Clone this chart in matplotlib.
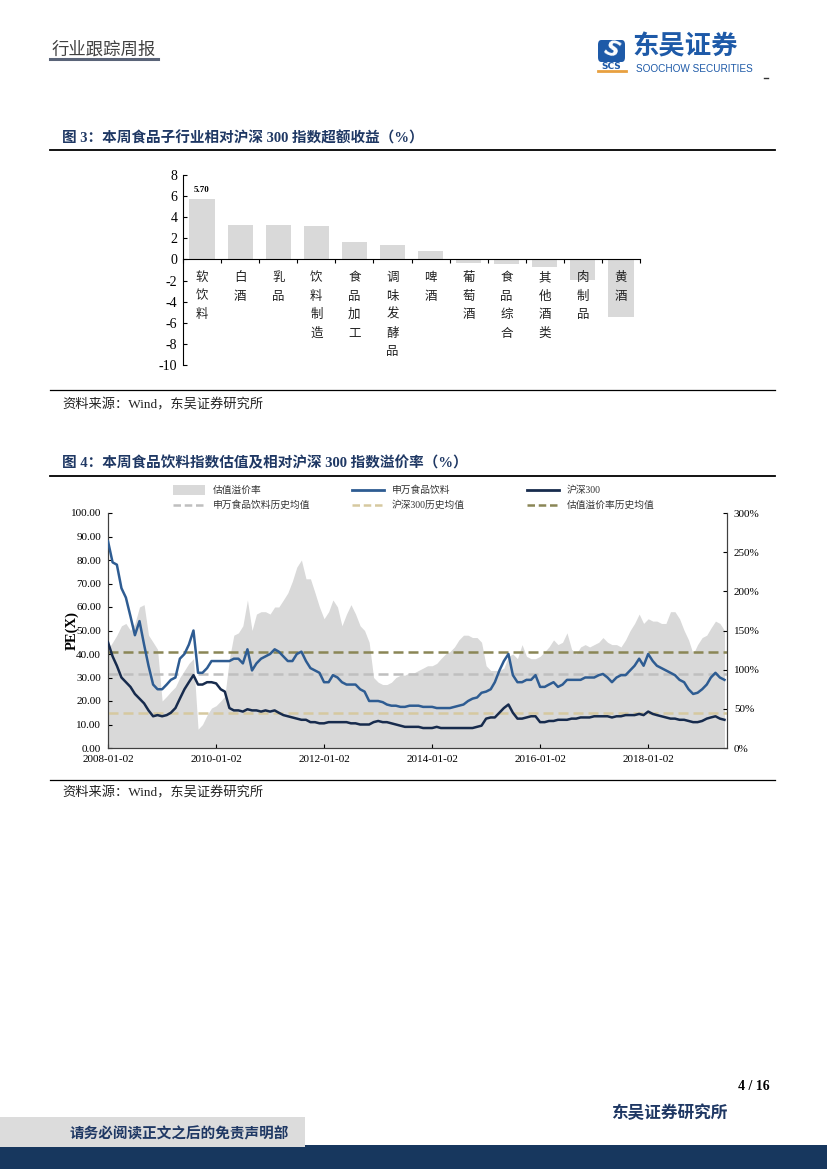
# 东吴证券 行业跟踪周报 p4: 食品子行业超额收益 + 食品饮料估值溢价
import numpy as np
import pandas as pd
import matplotlib
matplotlib.use('Agg')
import matplotlib.pyplot as plt
from matplotlib.lines import Line2D
from matplotlib.patches import Rectangle, FancyBboxPatch

plt.rcParams['font.family'] = ['Noto Sans CJK SC', 'DejaVu Sans']
SERIF = ['Liberation Serif', 'Noto Sans CJK SC']

# ---- 图3 data ----
sectors = ['软饮料', '白酒', '乳品', '饮料制造', '食品加工', '调味发酵品', '啤酒',
           '葡萄酒', '食品综合', '其他酒类', '肉制品', '黄酒']
excess = [5.70, 3.31, 3.30, 3.13, 1.65, 1.36, 0.76, -0.35, -0.44, -0.76, -1.90, -5.47]
bar_ticks = [8, 6, 4, 2, 0, -2, -4, -6, -8, -10]

# ---- 图4 data (monthly) ----
dates = pd.date_range('2008-01-01', periods=138, freq='MS') + pd.Timedelta(days=1)
sw_pe = [88, 79, 78, 68, 64, 56, 48, 54, 44, 35, 27, 25,
         25, 27, 29, 30, 38, 40, 44, 50, 32, 32, 34, 37,
         37, 37, 37, 37, 38, 38, 36, 42, 33, 36, 38, 39,
         40, 42, 41, 39, 37, 37, 40, 41, 37, 34, 33, 32,
         28, 28, 31, 30, 28, 27, 27, 27, 25, 24, 20, 20,
         20, 19.5, 18.5, 18, 18, 17.5, 17.5, 18, 18, 18, 17.5, 17.5,
         17.5, 17, 17, 17, 17, 17.5, 18, 18.5, 20, 21, 21.5, 23.5,
         24, 25, 28, 33, 37, 40, 31, 28, 28, 29, 29, 31,
         26, 26, 27, 28, 26, 27, 29, 29, 29, 29, 30, 30,
         30, 31, 31.5, 30, 28, 30, 31, 31, 33, 35, 38, 35,
         40, 37, 35, 34, 33, 32, 31, 29, 28, 25, 23, 23.5,
         25, 27, 30, 32, 30, 29]
hs_pe = [45, 39, 35, 30, 28, 26, 23, 21, 19, 16, 13.5, 14,
         13.5, 14, 15, 17, 21, 25, 28, 31, 27, 27, 28, 28,
         27.5, 25, 24, 17, 16, 16, 15.5, 16.5, 16, 16, 15.5, 16,
         15.5, 16, 15, 14, 13.5, 13, 12.5, 12, 12, 11, 11, 10.5,
         10.5, 11, 11, 11, 11, 11, 10.5, 10.5, 10, 10, 10, 11,
         11.5, 11, 11, 10.5, 10, 9.5, 9, 9, 9, 9, 8.5, 8.5,
         8.5, 9, 8.5, 8.5, 8.5, 8.5, 8.5, 8.5, 8.5, 8.5, 9, 9.5,
         12.5, 13, 13, 15, 17, 18.5, 15, 12.5, 12.5, 13, 13.5, 13.5,
         11, 11, 11.5, 11.5, 12, 12, 12, 12.5, 12.5, 13, 13, 13,
         13.5, 13.5, 13.5, 13.5, 13, 13.5, 13.5, 14, 14, 14, 14.5, 14,
         15.5, 14.5, 14, 13.5, 13, 12.5, 12.5, 12, 12, 11.5, 11, 11,
         11.5, 12.5, 13, 13.5, 12.5, 12]
premium = [126, 135, 144, 156, 159, 150, 159, 180, 183, 144, 135, 126,
           60, 66, 72, 78, 90, 99, 108, 114, 24, 30, 42, 51,
           54, 60, 66, 114, 144, 147, 156, 189, 150, 171, 174, 174,
           171, 180, 180, 189, 198, 213, 231, 240, 216, 216, 198, 180,
           165, 174, 189, 180, 156, 171, 183, 171, 156, 150, 135, 90,
           84, 81, 81, 84, 90, 93, 93, 96, 96, 99, 102, 105,
           105, 108, 114, 120, 123, 129, 138, 144, 144, 141, 141, 135,
           105, 99, 99, 99, 102, 117, 120, 114, 132, 117, 114, 114,
           117, 123, 129, 138, 132, 135, 147, 126, 120, 129, 132, 129,
           132, 135, 141, 135, 132, 132, 129, 138, 150, 159, 171, 159,
           165, 162, 162, 159, 159, 174, 174, 165, 150, 138, 120, 132,
           141, 144, 153, 162, 159, 150]
sw_mean = 31.6
hs_mean = 14.8
premium_mean = 122
date_ticks = ['2008-01-02', '2010-01-02', '2012-01-02', '2014-01-02', '2016-01-02', '2018-01-02']

# colours
NAVY = '#1F3864'
C_AREA = '#D9D9D9'
C_SW = '#2E5C92'
C_HS = '#172B4D'
C_SW_MEAN = '#BFBFBF'
C_HS_MEAN = '#D6C9A0'
C_PR_MEAN = '#8A8656'

W, H = 827, 1169
fig = plt.figure(figsize=(W / 100, H / 100), dpi=100)


def fx(x):
    return x / W


def fy(y):
    return 1 - y / H


def rect(l, t, r, b):
    return [l / W, 1 - b / H, (r - l) / W, (b - t) / H]


def hline(x0, x1, y, **kw):
    fig.add_artist(Line2D([fx(x0), fx(x1)], [fy(y), fy(y)], transform=fig.transFigure, **kw))


# --- header ---
fig.text(fx(52), fy(50), '行业跟踪周报', fontsize=12.5, color='#404040', va='center')
hline(50, 158, 59, color='#5A6478', lw=2.2)
fig.add_artist(FancyBboxPatch((fx(598), fy(62)), fx(27), (22 / H), boxstyle='round,pad=0.0,rounding_size=0.004',
                              transform=fig.transFigure, facecolor='#1E5AA8', edgecolor='none'))
fig.text(fx(611.5), fy(50), 'S', fontsize=15, fontweight='bold', color='white', ha='center', va='center',
         family='DejaVu Sans', style='italic', rotation=-20)
fig.text(fx(611.5), fy(66.5), 'SCS', fontsize=6.5, fontweight='bold', color='#1E5AA8', ha='center', va='center',
         family='DejaVu Sans')
hline(598, 626, 71, color='#E8A040', lw=2)
fig.text(fx(632), fy(47), '东吴证券', fontsize=19, fontweight='bold', color='#1E5AA8', va='center')
fig.text(fx(636), fy(68.5), 'SOOCHOW SECURITIES', fontsize=7.2, color='#1E5AA8', va='center',
         family='Liberation Sans')
hline(764, 768, 78, color='#333333', lw=1)

# --- 图3 ---
fig.text(fx(62), fy(138), '图 3：本周食品子行业相对沪深 300 指数超额收益（%）', fontsize=10.5,
         fontweight='bold', color=NAVY, va='center', family=SERIF)
hline(50, 775, 150, color='black', lw=1.3)

ax1 = fig.add_axes(rect(183, 175, 640, 365))
x = np.arange(len(sectors))
ax1.bar(x, excess, width=0.66, color=C_AREA, zorder=1)
ax1.set_xlim(-0.5, len(sectors) - 0.5)
ax1.set_ylim(-10, 8)
ax1.set_yticks(bar_ticks)
ax1.set_yticklabels([str(v) for v in bar_ticks], family='Liberation Serif', fontsize=10)
ax1.set_xticks(np.arange(-0.5, len(sectors), 1))
ax1.set_xticklabels([])
ax1.tick_params(axis='y', direction='in', length=3, width=0.8, pad=4)
ax1.tick_params(axis='x', direction='out', length=3, width=0.8)
for s in ['top', 'right']:
    ax1.spines[s].set_visible(False)
ax1.spines['bottom'].set_position(('data', 0))
ax1.spines['bottom'].set_zorder(3)
for s in ['left', 'bottom']:
    ax1.spines[s].set_linewidth(0.8)
ax1.patch.set_visible(False)
for i, name in enumerate(sectors):
    ax1.text(i, -1.1, '\n'.join(name), ha='center', va='top', fontsize=9, linespacing=1.55, color='#222222')
ax1.text(0, excess[0] + 0.5, f'{excess[0]:.2f}', ha='center', va='bottom', fontsize=6.5,
         fontweight='bold', family='Liberation Serif')

hline(50, 775, 390, color='black', lw=0.9)
fig.text(fx(62), fy(405), '资料来源：Wind，东吴证券研究所', fontsize=9.5, color='#222222', va='center',
         family=SERIF)

# --- 图4 ---
fig.text(fx(62), fy(463), '图 4：本周食品饮料指数估值及相对沪深 300 指数溢价率（%）', fontsize=10.5,
         fontweight='bold', color=NAVY, va='center', family=SERIF)
hline(50, 775, 476, color='black', lw=1.3)

# legend (two rows, three columns)
leg_rows = [
    [('patch', C_AREA, '估值溢价率'), ('line', C_SW, '申万食品饮料'), ('line', C_HS, '沪深300')],
    [('dash', C_SW_MEAN, '申万食品饮料历史均值'), ('dash', C_HS_MEAN, '沪深300历史均值'),
     ('dash', C_PR_MEAN, '估值溢价率历史均值')],
]
col_x = [173, 352, 527]
row_y = [490, 505]
for r, row in enumerate(leg_rows):
    for c, (kind, col, lab) in enumerate(row):
        x0, yy = col_x[c], row_y[r]
        if kind == 'patch':
            fig.add_artist(Rectangle((fx(x0), fy(yy + 5)), 32 / W, 10 / H, transform=fig.transFigure,
                                     facecolor=col, edgecolor='none'))
        elif kind == 'line':
            hline(x0, x0 + 32, yy, color=col, lw=2)
        else:
            fig.add_artist(Line2D([fx(x0), fx(x0 + 32)], [fy(yy), fy(yy)], transform=fig.transFigure,
                                  color=col, lw=1.8, ls=(0, (3, 1.5))))
        fig.text(fx(x0 + 40), fy(yy), lab, fontsize=7, color='#333333', va='center', family=SERIF)

ax = fig.add_axes(rect(108, 513, 727, 748))
axr = ax.twinx()
axr.fill_between(dates, premium, 0, color=C_AREA, lw=0)
axr.axhline(premium_mean, color=C_PR_MEAN, lw=1.8, ls=(0, (4, 2)))
axr.set_ylim(0, 300)
axr.set_yticks(range(0, 301, 50))
axr.set_yticklabels([f'{v}%' for v in range(0, 301, 50)], family='Liberation Serif', fontsize=8)
ax.set_zorder(axr.get_zorder() + 1)
ax.patch.set_visible(False)

ax.axhline(sw_mean, color=C_SW_MEAN, lw=1.8, ls=(0, (4, 2)), zorder=1)
ax.axhline(hs_mean, color=C_HS_MEAN, lw=1.8, ls=(0, (4, 2)), zorder=1)
ax.plot(dates, sw_pe, color=C_SW, lw=1.8, zorder=3)
ax.plot(dates, hs_pe, color=C_HS, lw=1.8, zorder=3)

ax.set_ylim(0, 100)
ax.set_yticks(range(0, 101, 10))
ax.set_yticklabels([f'{v:.2f}' for v in range(0, 101, 10)], family='Liberation Serif', fontsize=8)
ax.set_xlim(pd.Timestamp('2008-01-02'), pd.Timestamp('2019-06-19'))
ax.set_xticks(pd.to_datetime(date_ticks))
ax.set_xticklabels(date_ticks, family='Liberation Serif', fontsize=8)
for a in (ax, axr):
    a.spines['top'].set_visible(False)
    for s in ['left', 'right', 'bottom']:
        a.spines[s].set_linewidth(0.8)
        a.spines[s].set_color('#404040')
    a.tick_params(direction='in', length=3, width=0.8, pad=5)
fig.text(fx(72), fy(630), 'PE(X)', rotation=90, fontsize=10.5, fontweight='bold', family='Liberation Serif',
         ha='center', va='center')

hline(50, 775, 780, color='black', lw=0.9)
fig.text(fx(62), fy(793), '资料来源：Wind，东吴证券研究所', fontsize=9.5, color='#222222', va='center',
         family=SERIF)

# --- footer ---
fig.text(fx(770), fy(1087), '4 / 16', fontsize=10, fontweight='bold', family='Liberation Serif',
         ha='right', va='center')
fig.text(fx(727), fy(1113), '东吴证券研究所', fontsize=12, fontweight='bold', color=NAVY, ha='right',
         va='center')
fig.add_artist(Rectangle((0, fy(1169)), 1, 24 / H, transform=fig.transFigure, facecolor='#17375E',
                         edgecolor='none'))
fig.add_artist(Rectangle((0, fy(1147)), fx(305), 30 / H, transform=fig.transFigure, facecolor='#DCDCDC',
                         edgecolor='none'))
fig.text(fx(70), fy(1133), '请务必阅读正文之后的免责声明部', fontsize=10.5, fontweight='bold', color=NAVY,
         va='center')

fig.savefig('out.png', dpi=100)
